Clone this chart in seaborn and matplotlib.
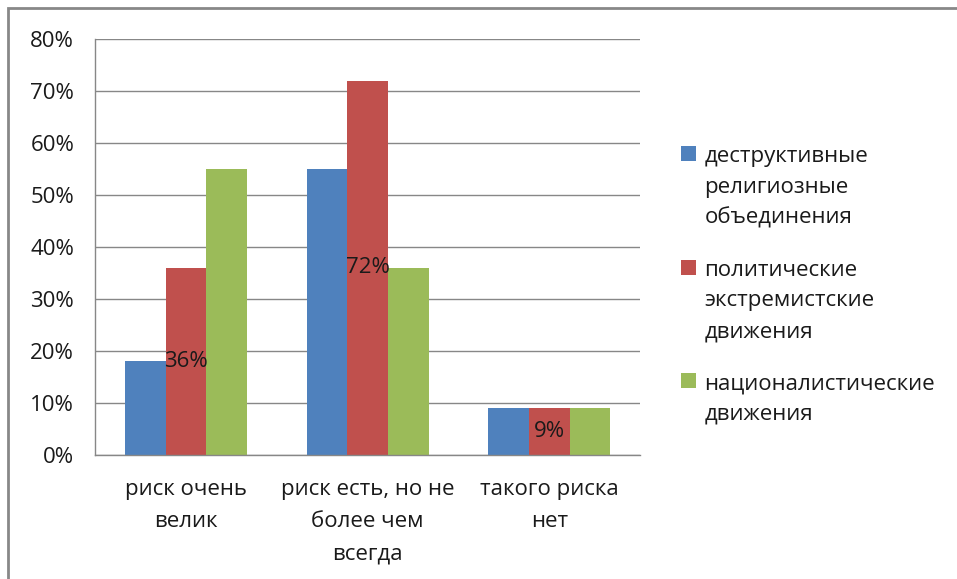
import matplotlib
matplotlib.use("Agg")
import matplotlib.pyplot as plt
import seaborn as sns
import pandas as pd
from matplotlib.patches import Rectangle
from matplotlib.ticker import FuncFormatter

categories = ["риск очень\nвелик", "риск есть, но не\nболее чем\nвсегда", "такого риска\nнет"]
series = ["деструктивные\nрелигиозные\nобъединения",
          "политические\nэкстремистские\nдвижения",
          "националистические\nдвижения"]
religious = [18, 55, 9]
political = [36, 72, 9]
national = [55, 36, 9]
red_labels = ["36%", "72%", "9%"]
colors = ["#4F81BD", "#C0504D", "#9BBB59"]

rows = []
for name, vals in zip(series, [religious, political, national]):
    for cat, v in zip(categories, vals):
        rows.append({"cat": cat, "series": name, "value": v})
df = pd.DataFrame(rows)

sns.set_style("white")
plt.rcParams["font.family"] = ["Open Sans", "DejaVu Sans"]
FS = 16
TXT = "#1a1a1a"

fig = plt.figure(figsize=(9.57, 5.79), dpi=100)
ax = fig.add_axes([0.0993, 0.214, 0.5697, 0.7186])

sns.barplot(data=df, x="cat", y="value", hue="series", palette=colors,
            width=0.67, saturation=1, linewidth=0, edgecolor="none", ax=ax)

ax.bar_label(ax.containers[1], labels=red_labels, label_type="center",
             fontsize=FS, color=TXT)

ax.set_ylim(0, 80)
ax.set_xlim(-0.5, 2.5)
ax.set_yticks(range(0, 81, 10))
ax.yaxis.set_major_formatter(FuncFormatter(lambda v, p: f"{int(v)}%"))
ax.yaxis.grid(True, color="#878787", lw=1)
ax.set_axisbelow(True)
ax.set_xlabel("")
ax.set_ylabel("")

# category boundary ticks
ax.set_xticks([-0.5, 0.5, 1.5, 2.5])
ax.set_xticklabels([])
ax.set_xticks([0, 1, 2], minor=True)
ax.set_xticklabels(categories, minor=True, fontsize=FS, color=TXT,
                   linespacing=1.7, va="top")
ax.tick_params(axis="x", which="major", length=6, color="#878787", width=1)
ax.tick_params(axis="x", which="minor", length=0, pad=17)
ax.tick_params(axis="y", length=6, color="#878787", width=1, labelsize=FS,
               labelcolor=TXT, pad=9)

for s in ["top", "right"]:
    ax.spines[s].set_visible(False)
for s in ["left", "bottom"]:
    ax.spines[s].set_color("#878787")
    ax.spines[s].set_linewidth(1)

handles, labels = ax.get_legend_handles_labels()
leg = ax.legend(handles, labels, loc="upper left", bbox_to_anchor=(0.712, 0.748),
                bbox_transform=fig.transFigure, frameon=False, fontsize=FS,
                handlelength=0.68, handleheight=0.68, handletextpad=0.35,
                labelspacing=1.4, borderaxespad=0, borderpad=0)
for t in leg.get_texts():
    t.set_linespacing(1.6)
    t.set_color(TXT)
for col in leg._legend_handle_box.get_children():
    for row in col.get_children():
        row.align = "top"

fig.patches.append(Rectangle((8 / 957, -0.02), 1.02, 1 - 8 / 579 + 0.02,
                             transform=fig.transFigure, fill=False,
                             edgecolor="#888888", lw=2))

fig.savefig("out.png", dpi=100, facecolor="white")
